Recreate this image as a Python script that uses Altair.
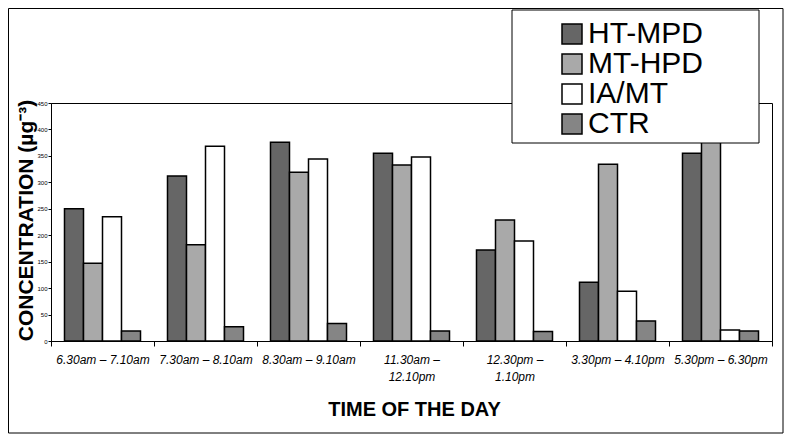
import altair as alt
import pandas as pd

# Categories (x axis) - "\n" marks a line break in the tick label
categories = [
    "6.30am – 7.10am",
    "7.30am – 8.10am",
    "8.30am – 9.10am",
    "11.30am –\n12.10pm",
    "12.30pm –\n1.10pm",
    "3.30pm – 4.10pm",
    "5.30pm – 6.30pm",
]
series = ["HT-MPD", "MT-HPD", "IA/MT", "CTR"]
ht_mpd = [250, 312, 376, 355, 172, 111, 355]
mt_hpd = [147, 182, 319, 333, 229, 334, 420]
ia_mt = [235, 368, 344, 348, 189, 94, 21]
ctr = [19, 27, 33, 19, 18, 38, 19]
colors = ["#666666", "#a9a9a9", "#ffffff", "#858585"]
y_ticks = list(range(0, 451, 50))

values = {"HT-MPD": ht_mpd, "MT-HPD": mt_hpd, "IA/MT": ia_mt, "CTR": ctr}
rows = []
for s in series:
    for c, v in zip(categories, values[s]):
        rows.append({"time": c, "series": s, "value": v})
df = pd.DataFrame(rows)

W, H = 721, 238

bars = alt.Chart(df).mark_bar(stroke="black", strokeWidth=1.5).encode(
    x=alt.X(
        "time:N",
        sort=categories,
        scale=alt.Scale(paddingInner=0, paddingOuter=0),
        axis=alt.Axis(
            title="TIME OF THE DAY",
            titleFontSize=20,
            titleFontWeight="bold",
            titleBaseline="middle",
            titleX=363,
            titleY=68,
            labelAngle=0,
            labelFontStyle="italic",
            labelFontSize=12,
            labelColor="black",
            labelPadding=8,
            labelLineHeight=17,
            labelExpr="split(datum.label, '\\n')",
            tickBand="extent",
            tickSize=5,
            tickColor="black",
            domainColor="black",
        ),
    ),
    xOffset=alt.XOffset(
        "series:N", sort=series, scale=alt.Scale(paddingInner=0, paddingOuter=0.71)
    ),
    y=alt.Y(
        "value:Q",
        scale=alt.Scale(domain=[0, 450], clamp=True),
        axis=alt.Axis(
            title="CONCENTRATION (µg⁻³)",
            titleFontSize=21,
            titleFontWeight="bold",
            titleBaseline="middle",
            titleAngle=-90,
            titleX=-25,
            titleY=117,
            values=y_ticks,
            grid=False,
            labelFontSize=6,
            labelColor="black",
            labelPadding=1,
            tickSize=3,
            tickColor="black",
            domainColor="black",
        ),
    ),
    color=alt.Color(
        "series:N",
        sort=series,
        scale=alt.Scale(domain=series, range=colors),
        legend=alt.Legend(
            title=None,
            orient="none",
            legendX=506,
            legendY=-84,
            symbolType="square",
            symbolSize=400,
            symbolStrokeColor="black",
            symbolStrokeWidth=1.5,
            symbolOpacity=1,
            labelFontSize=30,
            labelColor="black",
            labelOffset=1,
            rowPadding=0,
            padding=0,
        ),
    ),
)

box_df = pd.DataFrame({"k": [0]})
legend_box = alt.Chart(box_df).mark_rect(
    fill="white", stroke="black", strokeWidth=1
).encode(
    x=alt.value(461), x2=alt.value(708), y=alt.value(-93), y2=alt.value(40)
)
outer_box = alt.Chart(box_df).mark_rect(
    fill=None, fillOpacity=0, stroke="black", strokeWidth=1, clip=False
).encode(
    x=alt.value(-42.5), x2=alt.value(732), y=alt.value(-94.5), y2=alt.value(330)
)

chart = alt.layer(outer_box, bars, legend_box).properties(
    width=W,
    height=H,
    autosize=alt.AutoSizeParams(type="none"),
    padding={"left": 43, "top": 95, "right": 12, "bottom": 94},
).configure(
    font="Liberation Sans",
).configure_view(
    stroke="black", strokeWidth=1
)

chart.save("out.html", embed_options={"renderer": "svg", "actions": False})
